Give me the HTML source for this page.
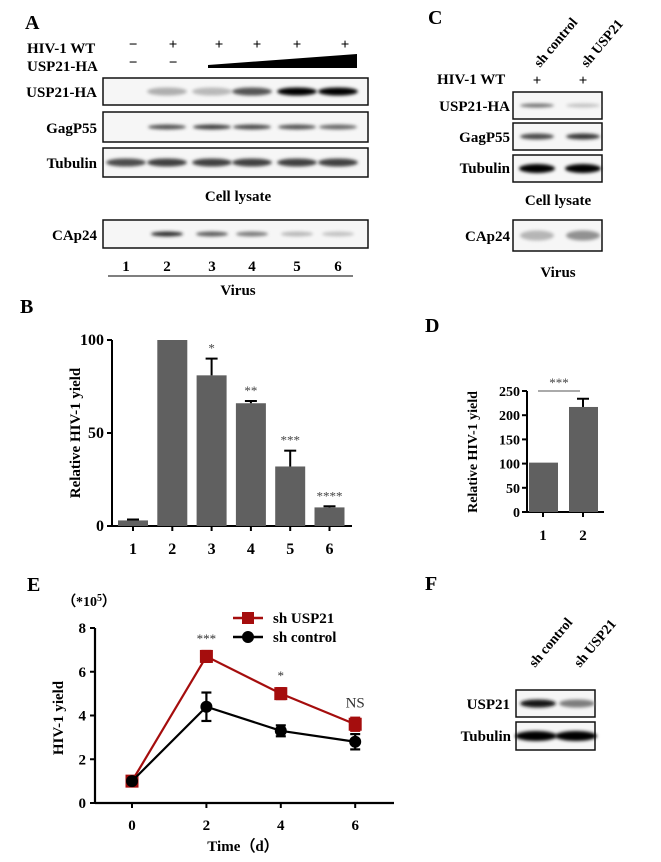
<!DOCTYPE html>
<html><head><meta charset="utf-8">
<style>
html,body{margin:0;padding:0;background:#fff;}
svg{display:block;font-family:"Liberation Serif",serif;font-weight:bold;}
</style></head>
<body>
<svg id="fig" width="661" height="862" viewBox="0 0 661 862" xmlns="http://www.w3.org/2000/svg">
<defs>
<filter id="blur" x="-20%" y="-100%" width="140%" height="300%"><feGaussianBlur stdDeviation="1.5"/></filter>
</defs>
<!-- Panel A -->
<g font-size="15">
<text x="25" y="29" font-size="20">A</text>
<text x="27" y="53">HIV-1 WT</text>
<text x="27" y="71">USP21-HA</text>
<g font-size="15" text-anchor="middle">
<text x="133" y="49">−</text><text x="173" y="49">+</text><text x="219" y="49">+</text><text x="257" y="49">+</text><text x="297" y="49">+</text><text x="345" y="49">+</text>
<text x="133" y="67">−</text><text x="173" y="67">−</text>
</g>
<polygon points="208,65 357,54 357,68 208,68" fill="#000"/>
<text x="97" y="97" text-anchor="end">USP21-HA</text>
<text x="97" y="133" text-anchor="end">GagP55</text>
<text x="97" y="168" text-anchor="end">Tubulin</text>
<text x="97" y="240" text-anchor="end">CAp24</text>
<g id="blotsA"></g>
<text x="238" y="201" text-anchor="middle">Cell lysate</text>
<g text-anchor="middle">
<text x="126" y="271">1</text><text x="167" y="271">2</text><text x="212" y="271">3</text><text x="252" y="271">4</text><text x="297" y="271">5</text><text x="338" y="271">6</text>
</g>
<line x1="108" y1="276" x2="353" y2="276" stroke="#333" stroke-width="1.2"/>
<text x="238" y="295" text-anchor="middle">Virus</text>
</g>
<!-- Panel C -->
<g font-size="15">
<text x="428" y="24" font-size="20">C</text>
<text x="540" y="68" transform="rotate(-50 540 68)" font-size="14">sh control</text>
<text x="587" y="68" transform="rotate(-50 587 68)" font-size="14">sh USP21</text>
<text x="437" y="84">HIV-1 WT</text>
<text x="537" y="85" text-anchor="middle">+</text><text x="583" y="85" text-anchor="middle">+</text>
<text x="510" y="111" text-anchor="end">USP21-HA</text>
<text x="510" y="142" text-anchor="end">GagP55</text>
<text x="510" y="173" text-anchor="end">Tubulin</text>
<text x="510" y="241" text-anchor="end">CAp24</text>
<g id="blotsC"></g>
<text x="558" y="205" text-anchor="middle">Cell lysate</text>
<text x="558" y="277" text-anchor="middle">Virus</text>
</g>
<!-- Panel F -->
<g font-size="15">
<text x="425" y="590" font-size="20">F</text>
<text x="535" y="668" transform="rotate(-50 535 668)" font-size="14">sh control</text>
<text x="580" y="668" transform="rotate(-50 580 668)" font-size="14">sh USP21</text>
<text x="510" y="709" text-anchor="end">USP21</text>
<text x="511" y="741" text-anchor="end">Tubulin</text>
<g id="blotsF"></g>
</g>
<!-- Panel B -->
<g id="chartB">
<text x="20" y="313" font-size="20">B</text>
</g>
<!-- Panel D -->
<g id="chartD">
<text x="425" y="332" font-size="20">D</text>
</g>
<!-- Panel E -->
<g id="chartE">
<text x="27" y="591" font-size="20">E</text>
<text x="62" y="606" font-size="14">（*10<tspan font-size="10" dy="-5">5</tspan><tspan dy="5">）</tspan></text>
</g>
</svg>
<script>
const NS='http://www.w3.org/2000/svg';
function mk(parent,tag,attrs,text){const e=document.createElementNS(NS,tag);for(const k in attrs)e.setAttribute(k,attrs[k]);if(text!==undefined)e.textContent=text;parent.appendChild(e);return e;}

// ---- Blots ----
const blotA_usp21=[0,0.15,0.1,0.6,1,1];
const blotA_gag=[0,0.6,0.7,0.65,0.6,0.5];
const blotA_tub=[0.65,0.7,0.7,0.7,0.7,0.7];
const blotA_cap=[0,0.8,0.55,0.4,0.1,0.05];
const lanesA=[126,167,212,252,297,338];
function blot(g,x,y,w,h,lanes,vals,bw,bh,name){
  const grp=mk(g,'g',{});
  
  
  mk(grp,'rect',{x:x,y:y,width:w,height:h,fill:'#f6f6f6',stroke:'#111','stroke-width':1.5});
  lanes.forEach((lx,i)=>{
    if(vals[i]<=0)return;
    const shade=Math.round(205-200*vals[i]);
    const b=mk(grp,'ellipse',{cx:lx,cy:y+h/2,rx:bw/2,ry:bh/2,fill:`rgb(${shade},${shade},${shade})`,filter:'url(#blur)'});
    
    
  });
}
const gA=document.getElementById('blotsA');
blot(gA,103,78,265,27,lanesA,blotA_usp21,40,8,'blot-usp21ha');
blot(gA,103,112,265,30,lanesA,blotA_gag,38,5,'blot-gagp55');
blot(gA,103,148,265,29,lanesA,blotA_tub,40,8,'blot-tubulin');
blot(gA,103,220,265,28,lanesA,blotA_cap,32,5,'blot-cap24');
const lanesC=[537,583];
const gC=document.getElementById('blotsC');
blot(gC,513,92,89,27,lanesC,[0.45,0.05],34,4,'blot-usp21ha-c');
blot(gC,513,123,89,27,lanesC,[0.65,0.75],34,6,'blot-gagp55-c');
blot(gC,513,155,89,27,lanesC,[1,1],36,9,'blot-tubulin-c');
blot(gC,513,220,89,31,lanesC,[0.12,0.3],34,10,'blot-cap24-c');
const gF=document.getElementById('blotsF');
blot(gF,516,690,79,27,[538,577],[0.9,0.4],36,8,'blot-usp21-f');
blot(gF,516,722,79,28,[536,576],[1,1],42,10,'blot-tubulin-f');

// ---- Chart B ----
const bCats=['1','2','3','4','5','6'];
const bVals=[3,100,81,66,32,10];
const bErr=[0.5,0,9,1.2,8.5,0.6];
const bSig=['','','*','**','***','****'];
const bTicks=[0,50,100];
(function(){
  const g=document.getElementById('chartB');
  const x0=112,x1=352,y0=526,ymax=100,yTop=340;
  const ys=v=>y0-(v/ymax)*(y0-yTop);
  const xs=i=>133+i*39.3;
  mk(g,'line',{x1:x0,y1:yTop,x2:x0,y2:y0+1,stroke:'#000','stroke-width':2});
  mk(g,'line',{x1:x0,y1:y0,x2:x1,y2:y0,stroke:'#000','stroke-width':2});
  bTicks.forEach(t=>{
    mk(g,'line',{x1:x0-5,y1:ys(t),x2:x0,y2:ys(t),stroke:'#000','stroke-width':2});
    const tl=mk(g,'text',{x:x0-8,y:ys(t)+5,'text-anchor':'end','font-size':16},t);
    
    
  });
  bCats.forEach((c,i)=>{
    const cx=xs(i);
    const bar=mk(g,'rect',{x:cx-15,y:ys(bVals[i]),width:30,height:y0-ys(bVals[i]),fill:'#606060'});
    
    
    if(bErr[i]>0){
      mk(g,'line',{x1:cx,y1:ys(bVals[i]),x2:cx,y2:ys(bVals[i]+bErr[i]),stroke:'#000','stroke-width':2});
      mk(g,'line',{x1:cx-6,y1:ys(bVals[i]+bErr[i]),x2:cx+6,y2:ys(bVals[i]+bErr[i]),stroke:'#000','stroke-width':2});
    }
    if(bSig[i]){
      const s=mk(g,'text',{x:cx,y:ys(bVals[i]+bErr[i])-6,'text-anchor':'middle','font-size':13,'font-weight':'normal',fill:'#444'},bSig[i]);
      
      
    }
    mk(g,'line',{x1:cx,y1:y0,x2:cx,y2:y0+5,stroke:'#000','stroke-width':2});
    const xl=mk(g,'text',{x:cx,y:554,'text-anchor':'middle','font-size':16},c);
    
    
  });
  const yl=mk(g,'text',{x:0,y:0,transform:'translate(80,433) rotate(-90)','text-anchor':'middle','font-size':15},'Relative HIV-1 yield');
  
  
})();

// ---- Chart D ----
const dCats=['1','2'];
const dVals=[102,217];
const dErr=[0,17];
const dTicks=[0,50,100,150,200,250];
(function(){
  const g=document.getElementById('chartD');
  const x0=527,x1=604,y0=512,ymax=250,yTop=391;
  const ys=v=>y0-(v/ymax)*(y0-yTop);
  const xs=i=>543+i*40;
  mk(g,'line',{x1:x0,y1:yTop,x2:x0,y2:y0+1,stroke:'#000','stroke-width':2});
  mk(g,'line',{x1:x0,y1:y0,x2:x1,y2:y0,stroke:'#000','stroke-width':2});
  dTicks.forEach(t=>{
    mk(g,'line',{x1:x0-5,y1:ys(t),x2:x0,y2:ys(t),stroke:'#000','stroke-width':2});
    const tl=mk(g,'text',{x:x0-7,y:ys(t)+5,'text-anchor':'end','font-size':14},t);
    
    
  });
  dCats.forEach((c,i)=>{
    const cx=xs(i);
    const bar=mk(g,'rect',{x:cx-14,y:ys(dVals[i]),width:29,height:y0-ys(dVals[i]),fill:'#606060'});
    
    
    if(dErr[i]>0){
      mk(g,'line',{x1:cx,y1:ys(dVals[i]),x2:cx,y2:ys(dVals[i]+dErr[i]),stroke:'#000','stroke-width':2});
      mk(g,'line',{x1:cx-6,y1:ys(dVals[i]+dErr[i]),x2:cx+6,y2:ys(dVals[i]+dErr[i]),stroke:'#000','stroke-width':2});
    }
    mk(g,'line',{x1:cx,y1:y0,x2:cx,y2:y0+5,stroke:'#000','stroke-width':2});
    const xl=mk(g,'text',{x:cx,y:540,'text-anchor':'middle','font-size':15},c);
    
    
  });
  mk(g,'line',{x1:538,y1:391,x2:580,y2:391,stroke:'#555','stroke-width':1});
  const s=mk(g,'text',{x:559,y:387,'text-anchor':'middle','font-size':13,'font-weight':'normal',fill:'#444'},'***');
  
  
  const yl=mk(g,'text',{x:0,y:0,transform:'translate(477,452) rotate(-90)','text-anchor':'middle','font-size':14},'Relative HIV-1 yield');
  
  
})();

// ---- Chart E ----
const eDays=[0,2,4,6];
const eUsp21=[1,6.7,5.0,3.6];
const eUsp21Err=[0.1,0.25,0.25,0.3];
const eCtrl=[1,4.4,3.3,2.8];
const eCtrlErr=[0.1,0.65,0.25,0.35];
const eSig=['','***','*','NS'];
const eYTicks=[0,2,4,6,8];
const eXTicks=[0,2,4,6];
(function(){
  const g=document.getElementById('chartE');
  const x0=95,x1=394,y0=803,yTop=628,ymax=8;
  const ys=v=>y0-(v/ymax)*(y0-yTop);
  const xs=d=>132+d*37.2;
  mk(g,'line',{x1:x0,y1:yTop,x2:x0,y2:y0+1,stroke:'#000','stroke-width':2.2});
  mk(g,'line',{x1:x0,y1:y0,x2:x1,y2:y0,stroke:'#000','stroke-width':2.2});
  eYTicks.forEach(t=>{
    mk(g,'line',{x1:x0-5,y1:ys(t),x2:x0,y2:ys(t),stroke:'#000','stroke-width':2});
    const tl=mk(g,'text',{x:x0-9,y:ys(t)+5,'text-anchor':'end','font-size':15},t);
    
    
  });
  eXTicks.forEach(t=>{
    mk(g,'line',{x1:xs(t),y1:y0,x2:xs(t),y2:y0+5,stroke:'#000','stroke-width':2});
    const tl=mk(g,'text',{x:xs(t),y:830,'text-anchor':'middle','font-size':15},t);
    
    
  });
  function series(vals,errs,color,shape,name){
    const pts=eDays.map((d,i)=>xs(d)+','+ys(vals[i])).join(' ');
    const pl=mk(g,'polyline',{points:pts,fill:'none',stroke:color,'stroke-width':2.2});
    
    
    eDays.forEach((d,i)=>{
      const cx=xs(d),cy=ys(vals[i]);
      const e1=ys(vals[i]+errs[i]),e2=ys(vals[i]-errs[i]);
      mk(g,'line',{x1:cx,y1:e1,x2:cx,y2:e2,stroke:color,'stroke-width':2.2});
      mk(g,'line',{x1:cx-5,y1:e1,x2:cx+5,y2:e1,stroke:color,'stroke-width':2.2});
      mk(g,'line',{x1:cx-5,y1:e2,x2:cx+5,y2:e2,stroke:color,'stroke-width':2.2});
      let m;
      if(shape==='sq') m=mk(g,'rect',{x:cx-6.5,y:cy-6.5,width:13,height:13,fill:color});
      else m=mk(g,'circle',{cx:cx,cy:cy,r:6,fill:color});
      
      
    });
  }
  series(eUsp21,eUsp21Err,'#a50d0d','sq','sh-usp21');
  series(eCtrl,eCtrlErr,'#000','ci','sh-control');
  eDays.forEach((d,i)=>{
    if(!eSig[i])return;
    const top=ys(eUsp21[i]+eUsp21Err[i]);
    const isNS=eSig[i]==='NS';
    const s=mk(g,'text',{x:xs(d),y:top-(isNS?10:8),'text-anchor':'middle','font-size':isNS?15:13,'font-weight':'normal',fill:'#333'},eSig[i]);
    
    
  });
  const lg=mk(g,'g',{});
  
  
  mk(lg,'line',{x1:233,y1:618,x2:263,y2:618,stroke:'#a50d0d','stroke-width':2.5});
  mk(lg,'rect',{x:242,y:612,width:12,height:12,fill:'#a50d0d'});
  mk(lg,'text',{x:273,y:623,'font-size':15},'sh USP21');
  mk(lg,'line',{x1:233,y1:637,x2:263,y2:637,stroke:'#000','stroke-width':2.5});
  mk(lg,'circle',{cx:248,cy:637,r:6,fill:'#000'});
  mk(lg,'text',{x:273,y:642,'font-size':15},'sh control');
  const yl=mk(g,'text',{x:0,y:0,transform:'translate(63,718) rotate(-90)','text-anchor':'middle','font-size':15},'HIV-1 yield');
  
  
  const xl=mk(g,'text',{x:243,y:851,'text-anchor':'middle','font-size':15},'Time（d）');
  
  
})();
</script>
</body></html>
